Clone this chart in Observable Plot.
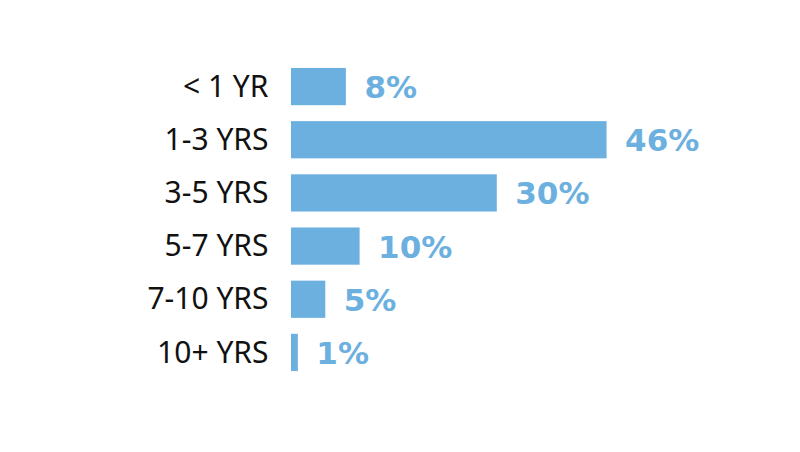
<!DOCTYPE html>
<html>
<head>
<meta charset="utf-8">
<script src="https://cdn.jsdelivr.net/npm/d3@7"></script>
<script src="https://cdn.jsdelivr.net/npm/@observablehq/plot@0.6"></script>
<style>
  html, body { margin: 0; padding: 0; background: #ffffff; }
  #chart svg { display: block; }
</style>
</head>
<body>
<div id="chart"></div>
<script>
// Share of respondents by length of tenure
const categories = ["< 1 YR", "1-3 YRS", "3-5 YRS", "5-7 YRS", "7-10 YRS", "10+ YRS"];
const shares = [8, 46, 30, 10, 5, 1];

const rows = categories.map((c, i) => ({category: c, share: shares[i]}));
const blue = "#6cb0e0";

const chart = Plot.plot({
  width: 800,
  height: 452,
  marginLeft: 291,
  marginRight: 166,
  marginTop: 52,
  marginBottom: 65,
  style: {background: "#ffffff", color: "#111111", fontFamily: "'Noto Sans', sans-serif"},
  x: {domain: [0, 50], axis: null},
  y: {domain: categories, padding: 0.3, round: false, label: null},
  marks: [
    Plot.axisY({tickSize: 0, tickPadding: 23, fontSize: 30, fill: "#111111", label: null}),
    Plot.barX(rows, {x: "share", y: "category", fill: blue}),
    Plot.text(rows, {
      x: "share",
      y: "category",
      text: d => `${d.share}%`,
      textAnchor: "start",
      dx: 18,
      dy: 1,
      fill: blue,
      fontSize: 31,
      fontWeight: "bold",
      fontFamily: "'DejaVu Sans', sans-serif"
    })
  ]
});

document.getElementById("chart").appendChild(chart);
</script>
</body>
</html>
